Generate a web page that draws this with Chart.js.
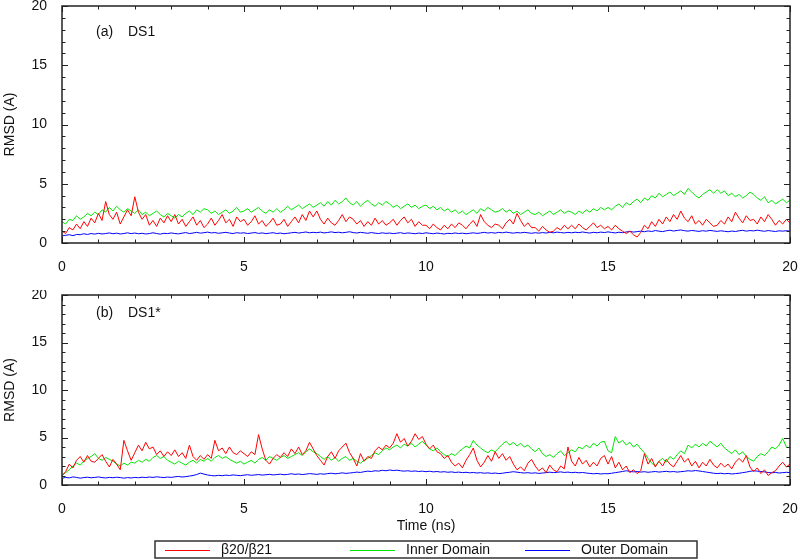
<!DOCTYPE html>
<html>
<head>
<meta charset="utf-8">
<script src="https://cdn.jsdelivr.net/npm/chart.js@4.4.1/dist/chart.umd.min.js"></script>
<style>
  body { margin: 0; background: #fff; }
  #wrap { position: relative; width: 800px; height: 559px; }
  canvas { position: absolute; left: 0; }
  #chartA { top: 0; }
  #chartB { top: 290px; }
</style>
</head>
<body>
<div id="wrap">
  <canvas id="chartA" width="800" height="290"></canvas>
  <canvas id="chartB" width="800" height="269"></canvas>
</div>
<script>
// sampled every 0.1 ns, 0..20 ns
const timeStep = 0.1;
const seriesNames = ["\u03b220/\u03b221", "Inner Domain", "Outer Domain"];
const seriesColors = ["#ff0000", "#00e600", "#0000ff"];
const xTicks = [0, 5, 10, 15, 20];
const yTicks = [0, 5, 10, 15, 20];

// (a) DS1
const aBeta = [
  1.0,0.8,1.3,1.1,1.6,1.2,1.8,1.4,2.1,1.7,
  2.5,1.9,3.5,2.4,2.0,2.6,1.6,2.2,2.8,2.3,
  3.9,2.6,2.0,2.4,1.5,1.9,1.4,2.1,1.7,2.3,
  1.8,2.4,1.6,2.0,1.4,1.8,2.2,1.5,1.9,1.3,
  1.6,2.1,1.5,1.9,2.4,1.7,2.0,1.4,2.2,1.8,
  2.0,1.5,1.8,2.3,1.6,1.9,1.4,1.7,2.1,1.5,
  1.6,2.0,1.4,1.8,2.2,1.7,2.4,1.9,2.7,2.2,
  2.7,2.0,1.6,2.1,1.7,1.5,1.9,2.4,1.8,2.2,
  2.0,1.6,1.9,1.4,1.8,1.5,2.1,1.6,1.9,1.5,
  1.7,2.0,1.5,1.9,2.2,1.7,2.0,1.4,1.8,1.5,
  1.5,1.2,1.6,1.3,1.1,1.5,1.2,1.6,1.3,1.7,
  1.5,1.2,1.6,1.9,1.4,2.4,1.8,1.5,1.3,1.6,
  1.5,1.2,1.7,2.0,1.6,2.5,1.9,1.4,1.7,1.3,
  1.3,1.0,1.4,1.1,0.9,1.0,1.3,1.1,1.5,1.2,
  1.5,1.2,1.6,1.3,1.1,1.4,1.7,1.3,1.5,1.2,
  1.4,1.1,1.5,1.2,1.0,0.8,1.0,0.7,0.5,0.9,
  1.5,1.2,1.8,1.4,2.0,1.6,2.2,1.8,2.4,2.0,
  2.7,2.1,1.8,2.3,1.6,1.9,1.5,2.0,1.7,1.4,
  1.5,1.9,1.6,2.2,1.8,2.6,2.1,1.7,2.3,1.9,
  2.0,1.6,2.2,1.8,2.4,2.0,1.5,1.9,1.6,2.0,
  1.7
];
const aInner = [
  1.8,1.6,2.0,1.9,2.3,2.0,2.2,2.5,2.3,2.6,
  2.4,2.8,2.6,3.0,2.7,3.1,2.8,2.6,2.9,2.7,
  2.5,2.8,2.4,2.6,2.3,2.5,2.7,2.4,2.2,2.5,
  2.3,2.1,2.4,2.2,2.5,2.7,2.4,2.8,2.6,2.9,
  2.8,2.5,2.7,2.4,2.6,2.8,2.5,2.7,3.0,2.6,
  2.7,2.9,2.6,2.8,3.0,2.7,2.5,2.8,2.6,2.9,
  2.6,2.8,3.1,2.8,3.0,3.2,2.9,3.1,3.3,3.0,
  3.2,3.4,3.1,3.5,3.2,3.6,3.3,3.5,3.8,3.4,
  3.2,3.5,3.1,3.4,3.6,3.3,3.1,3.4,3.2,3.5,
  3.3,3.0,3.2,2.9,3.1,3.3,3.0,3.2,2.9,3.1,
  3.2,2.9,3.1,2.8,3.0,2.7,2.9,2.6,2.8,2.5,
  2.7,2.4,2.6,2.8,2.5,2.9,2.7,3.0,2.8,2.6,
  2.7,2.9,2.6,2.8,2.5,2.7,2.4,2.6,2.8,2.5,
  2.4,2.6,2.3,2.5,2.7,2.4,2.6,2.8,2.5,2.7,
  2.6,2.4,2.7,2.5,2.8,2.6,2.9,2.7,3.0,2.8,
  3.0,2.8,3.1,3.3,3.0,3.4,3.2,3.5,3.7,3.4,
  3.8,3.6,4.0,3.8,4.2,3.9,4.1,4.3,4.0,4.2,
  4.4,4.1,4.6,4.3,4.0,3.8,4.1,4.3,4.5,4.2,
  4.5,4.2,4.4,4.0,4.2,3.9,4.1,3.8,4.0,4.3,
  4.1,3.8,3.6,3.9,3.4,3.6,3.3,3.5,3.7,3.4,
  3.6
];
const aOuter = [
  0.60,0.65,0.70,0.62,0.72,0.70,0.78,0.72,0.80,0.75,
  0.82,0.76,0.80,0.85,0.78,0.83,0.76,0.80,0.86,0.79,
  0.84,0.78,0.82,0.76,0.80,0.86,0.80,0.75,0.82,0.79,
  0.85,0.80,0.77,0.83,0.88,0.80,0.84,0.90,0.83,0.87,
  0.92,0.85,0.88,0.82,0.86,0.90,0.84,0.80,0.87,0.83,
  0.86,0.80,0.84,0.88,0.81,0.85,0.79,0.83,0.87,0.80,
  0.84,0.78,0.82,0.86,0.90,0.84,0.88,0.93,0.86,0.90,
  0.87,0.92,0.85,0.89,0.94,0.88,0.91,0.86,0.90,0.95,
  0.88,0.84,0.90,0.86,0.82,0.88,0.83,0.80,0.86,0.81,
  0.84,0.79,0.83,0.87,0.80,0.85,0.82,0.78,0.84,0.80,
  0.86,0.82,0.78,0.84,0.80,0.76,0.82,0.79,0.85,0.80,
  0.83,0.78,0.82,0.86,0.81,0.85,0.90,0.84,0.88,0.83,
  0.90,0.86,0.92,0.87,0.83,0.88,0.85,0.90,0.86,0.82,
  0.87,0.83,0.88,0.84,0.90,0.86,0.92,0.88,0.85,0.90,
  0.86,0.91,0.87,0.93,0.88,0.84,0.90,0.86,0.92,0.88,
  0.94,0.89,0.85,0.91,0.87,0.93,0.98,0.92,0.96,1.00,
  0.95,1.02,0.97,1.05,1.00,0.96,1.03,1.08,1.01,1.06,
  1.10,1.04,1.00,1.06,1.02,0.98,1.04,1.00,1.06,1.02,
  0.98,1.03,0.99,0.95,1.01,0.97,1.03,1.07,1.00,1.05,
  1.02,1.08,1.03,0.99,1.05,1.01,0.97,1.03,1.00,1.04,
  1.00
];

// (b) DS1*
const bBeta = [
  1.0,1.4,2.2,1.8,2.6,3.0,2.4,3.1,2.5,2.4,
  2.8,3.2,2.5,1.9,2.7,2.2,1.6,4.7,3.6,2.6,
  3.4,4.2,3.6,4.5,3.8,4.0,3.2,3.6,3.0,3.5,
  3.1,3.7,3.0,3.4,2.8,4.2,3.0,2.6,3.1,2.7,
  3.2,2.8,4.7,3.6,3.9,3.3,4.0,3.4,3.2,3.6,
  3.3,3.0,3.5,3.2,5.3,3.8,2.6,2.2,2.8,3.2,
  2.9,3.4,3.0,3.8,3.3,4.0,3.2,3.6,4.5,3.8,
  3.1,2.6,2.1,3.0,3.5,2.8,3.6,4.0,4.4,3.4,
  2.8,2.0,3.3,2.5,3.0,2.8,3.6,4.0,3.7,4.2,
  3.9,4.4,5.4,4.5,4.9,4.1,4.6,5.4,4.8,5.1,
  4.3,3.8,4.2,3.5,3.3,2.8,3.1,2.4,2.0,2.3,
  1.8,2.6,3.2,3.9,2.6,1.9,2.4,3.1,2.5,3.5,
  2.8,3.3,2.6,3.0,2.2,1.6,1.9,1.5,2.3,2.7,
  2.0,1.5,1.8,1.3,2.1,1.6,1.4,2.0,1.7,4.0,
  2.5,2.0,2.9,2.2,2.6,1.9,2.4,2.0,2.8,3.1,
  2.2,3.0,1.8,2.4,1.6,2.0,1.3,1.6,1.2,1.5,
  3.3,2.2,2.8,1.9,2.5,2.0,2.7,2.2,1.9,2.5,
  3.1,2.4,2.8,2.0,2.5,1.8,2.4,2.0,2.7,2.1,
  1.8,2.3,1.9,2.2,1.7,2.4,2.8,2.4,3.1,1.9,
  1.4,1.8,1.2,1.6,1.0,1.3,1.5,2.0,2.4,1.9,
  2.2
];
const bInner = [
  1.0,1.3,1.6,2.0,2.3,2.1,2.5,2.8,3.0,3.3,
  2.8,2.6,2.9,2.7,2.5,2.2,2.0,2.3,2.1,2.4,
  2.3,2.6,2.4,2.7,2.5,2.9,3.1,2.8,3.0,2.6,
  2.4,2.2,2.5,2.3,2.1,2.4,2.6,2.3,2.7,2.5,
  2.8,2.5,2.9,3.1,2.8,3.0,2.7,2.5,2.3,2.5,
  2.2,2.4,2.6,2.3,2.7,2.9,2.6,3.0,2.8,2.6,
  2.9,3.1,2.8,3.0,3.2,3.4,3.1,3.5,3.8,3.5,
  3.3,3.0,2.7,3.0,2.6,2.9,2.5,2.8,3.0,2.6,
  2.8,2.5,2.3,2.6,2.8,3.1,3.4,3.2,3.6,3.9,
  3.7,4.0,4.2,3.9,4.3,4.1,4.4,4.0,4.3,4.6,
  4.2,3.8,3.6,3.9,3.5,3.2,3.0,3.3,3.1,3.5,
  3.8,4.1,3.9,4.7,4.2,3.9,3.6,3.4,3.7,3.5,
  3.9,4.3,4.6,4.2,4.5,4.1,4.4,4.0,4.2,3.8,
  3.5,3.9,3.3,3.0,3.2,2.9,3.3,3.6,3.1,3.4,
  3.7,3.5,4.0,3.8,4.2,3.9,4.4,4.1,4.5,4.6,
  3.6,3.4,5.1,4.4,4.7,4.2,4.5,4.0,4.3,3.8,
  3.4,2.8,2.3,2.0,2.5,2.8,2.4,3.0,2.7,3.2,
  3.6,3.3,4.2,3.9,4.3,4.0,4.4,4.1,4.6,4.3,
  4.0,4.4,3.9,3.6,3.3,3.7,3.2,3.5,3.0,2.7,
  2.5,3.0,3.3,3.1,3.5,4.0,3.8,4.2,4.9,4.0,
  3.9
];
const bOuter = [
  0.70,0.80,0.75,0.85,0.80,0.72,0.78,0.82,0.76,0.80,
  0.85,0.78,0.74,0.80,0.76,0.82,0.78,0.72,0.78,0.74,
  0.80,0.76,0.82,0.78,0.84,0.80,0.86,0.82,0.78,0.84,
  0.80,0.86,0.90,0.84,0.88,0.94,1.00,1.10,1.25,1.15,
  1.05,1.00,0.96,1.02,0.98,1.04,1.00,1.06,1.02,0.98,
  1.04,1.08,1.02,1.06,1.10,1.04,1.08,1.12,1.06,1.10,
  1.14,1.08,1.12,1.18,1.12,1.16,1.10,1.14,1.20,1.16,
  1.12,1.18,1.14,1.20,1.24,1.18,1.22,1.28,1.22,1.26,
  1.30,1.36,1.32,1.40,1.46,1.42,1.50,1.46,1.55,1.50,
  1.58,1.52,1.56,1.50,1.46,1.50,1.44,1.48,1.42,1.46,
  1.40,1.45,1.38,1.42,1.36,1.40,1.34,1.38,1.32,1.36,
  1.30,1.34,1.28,1.32,1.26,1.30,1.24,1.28,1.22,1.26,
  1.20,1.24,1.30,1.34,1.40,1.35,1.30,1.26,1.30,1.24,
  1.28,1.22,1.26,1.30,1.35,1.30,1.34,1.38,1.32,1.36,
  1.30,1.34,1.28,1.32,1.26,1.22,1.18,1.22,1.16,1.20,
  1.18,1.24,1.30,1.36,1.42,1.50,1.44,1.38,1.42,1.36,
  1.40,1.34,1.38,1.42,1.36,1.40,1.44,1.38,1.42,1.36,
  1.40,1.44,1.50,1.46,1.52,1.48,1.42,1.36,1.30,1.24,
  1.20,1.24,1.18,1.22,1.16,1.20,1.24,1.30,1.36,1.44,
  1.50,1.46,1.42,1.38,1.32,1.28,1.32,1.26,1.30,1.34,
  1.30
];

const fontFamily = "'Liberation Sans', Arial, Helvetica, sans-serif";
Chart.defaults.font.family = fontFamily;
Chart.defaults.font.size = 14;
Chart.defaults.color = "#111";

function toPoints(values) {
  return values.map((v, i) => ({ x: i * timeStep, y: v }));
}

// box around the plot with inward ticks on all four sides, plus panel tag
const framePlugin = {
  id: "frame",
  afterDraw(chart, args, opts) {
    const { ctx, chartArea: a } = chart;
    const x = chart.scales.x, y = chart.scales.y;
    ctx.save();
    ctx.strokeStyle = "#222";
    ctx.lineWidth = 1;
    for (let v = 0; v <= 20; v++) {
      const len = v % 5 === 0 ? 6 : 3.5;
      const px = Math.round(x.getPixelForValue(v)) + 0.5;
      const py = Math.round(y.getPixelForValue(v)) + 0.5;
      ctx.beginPath();
      ctx.moveTo(px, a.bottom); ctx.lineTo(px, a.bottom - len);
      ctx.moveTo(px, a.top); ctx.lineTo(px, a.top + len);
      ctx.moveTo(a.left, py); ctx.lineTo(a.left + len, py);
      ctx.moveTo(a.right, py); ctx.lineTo(a.right - len, py);
      ctx.stroke();
    }
    ctx.lineWidth = 1.5;
    ctx.strokeRect(a.left, a.top, a.right - a.left, a.bottom - a.top);

    ctx.fillStyle = "#111";
    ctx.font = "14px " + fontFamily;
    ctx.textBaseline = "middle";
    ctx.fillText(opts.tag, a.left + opts.dx, a.top + opts.dy);
    ctx.fillText(opts.name, a.left + opts.dx + 32, a.top + opts.dy);
    ctx.restore();
  }
};

// boxed legend under the lower panel
const legendBoxPlugin = {
  id: "legendBox",
  afterDraw(chart, args, opts) {
    if (!opts.show) return;
    const ctx = chart.ctx;
    ctx.save();
    ctx.strokeStyle = "#333";
    ctx.lineWidth = 1.5;
    ctx.strokeRect(opts.left, opts.top, opts.width, opts.height);
    const cy = opts.top + opts.height / 2;
    ctx.font = "14px " + fontFamily;
    ctx.textBaseline = "middle";
    chart.data.datasets.forEach((ds, i) => {
      const x0 = opts.itemX[i];
      ctx.strokeStyle = ds.borderColor;
      ctx.lineWidth = 1;
      ctx.beginPath();
      ctx.moveTo(x0, Math.round(cy) + 0.5);
      ctx.lineTo(x0 + 45, Math.round(cy) + 0.5);
      ctx.stroke();
      ctx.fillStyle = "#111";
      ctx.fillText(ds.label, x0 + 56, cy + 1);
    });
    ctx.restore();
  }
};

function makePanel(id, beta, inner, outer, cfg) {
  const ctx = document.getElementById(id).getContext("2d");
  return new Chart(ctx, {
    type: "line",
    data: {
      datasets: [beta, inner, outer].map((vals, i) => ({
        label: seriesNames[i],
        data: toPoints(vals),
        borderColor: seriesColors[i],
        borderWidth: 1,
        pointRadius: 0,
        tension: 0,
        fill: false
      }))
    },
    options: {
      responsive: false,
      animation: false,
      layout: { padding: { left: 0, right: 10, top: cfg.top, bottom: cfg.bottom } },
      plugins: {
        legend: { display: false },
        tooltip: { enabled: false },
        frame: cfg.frame,
        legendBox: cfg.legend
      },
      scales: {
        x: {
          type: "linear",
          min: 0, max: 20,
          grid: { display: false },
          border: { display: false },
          afterBuildTicks: s => { s.ticks = xTicks.map(v => ({ value: v })); },
          ticks: { padding: 8, maxRotation: 0, autoSkip: false },
          title: {
            display: cfg.xTitle,
            text: "Time (ns)",
            padding: 0
          },
          afterFit: s => {
            s.height = cfg.xHeight;
            s.paddingLeft = 0; s.paddingRight = 0;
          }
        },
        y: {
          type: "linear",
          min: 0, max: 20,
          grid: { display: false },
          border: { display: false },
          afterBuildTicks: s => { s.ticks = yTicks.map(v => ({ value: v })); },
          ticks: { padding: 7 },
          title: {
            display: true,
            text: "RMSD (A)",
            padding: { top: 2, bottom: 0 }
          },
          afterFit: s => {
            s.width = 62;
            s.paddingTop = 0; s.paddingBottom = 0;
          }
        }
      }
    },
    plugins: [framePlugin, legendBoxPlugin]
  });
}

makePanel("chartA", aBeta, aInner, aOuter, {
  top: 6, bottom: 0, xHeight: 47, xTitle: false,
  frame: { tag: "(a)", name: "DS1", dx: 34, dy: 26 },
  legend: { show: false }
});

makePanel("chartB", bBeta, bInner, bOuter, {
  top: 5, bottom: 24, xHeight: 50, xTitle: true,
  frame: { tag: "(b)", name: "DS1*", dx: 34, dy: 18 },
  legend: { show: true, left: 155, top: 251, width: 542, height: 17, itemX: [165, 350, 525] }
});
</script>
</body>
</html>
